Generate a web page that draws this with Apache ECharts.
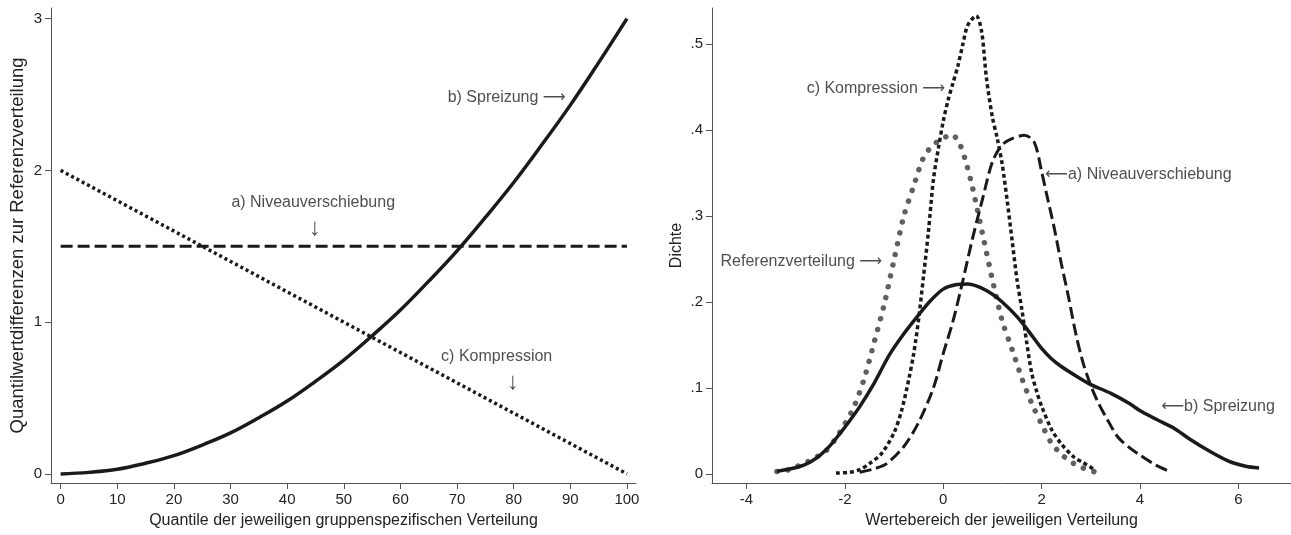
<!DOCTYPE html>
<html>
<head>
<meta charset="utf-8">
<script src="https://cdn.jsdelivr.net/npm/echarts@6/dist/echarts.min.js"></script>
<style>
html,body{margin:0;padding:0;background:#fff;}
#chart{width:1291px;height:535px;}
</style>
</head>
<body>
<div id="chart"></div>
<script>
// ---------- Left panel data ----------
const quantiles = [0,5,10,15,20,25,30,35,40,45,50,55,60,65,70,75,80,85,90,95,100];
const spreizungQ = [0,0.01,0.03,0.07,0.12,0.19,0.27,0.37,0.48,0.61,0.75,0.91,1.08,1.27,1.47,1.69,1.92,2.17,2.43,2.71,3.0];
const niveauQX = [0,100];
const niveauQ = [1.5,1.5];
const kompressionQX = [0,100];
const kompressionQ = [2,0];
const leftXTicks = [0,10,20,30,40,50,60,70,80,90,100];
const leftYTicks = [0,1,2,3];

// ---------- Right panel data ----------
const refX = [-3.38,-3.2,-3.0,-2.8,-2.6,-2.4,-2.2,-2.0,-1.8,-1.6,-1.4,-1.2,-1.0,-0.8,-0.6,-0.4,-0.2,0.0,0.15,0.3,0.45,0.6,0.8,1.0,1.2,1.4,1.6,1.8,2.0,2.2,2.4,2.6,2.8,3.0,3.1];
const refY = [0.003,0.004,0.008,0.013,0.019,0.026,0.040,0.058,0.080,0.112,0.154,0.197,0.249,0.300,0.335,0.368,0.383,0.390,0.395,0.388,0.365,0.332,0.279,0.226,0.178,0.145,0.111,0.082,0.058,0.036,0.023,0.014,0.008,0.004,0.002];

const kompX = [-2.18,-1.9,-1.7,-1.5,-1.25,-1.0,-0.85,-0.7,-0.6,-0.5,-0.4,-0.3,-0.2,-0.1,0.0,0.1,0.2,0.3,0.4,0.5,0.67,0.78,0.88,1.0,1.1,1.2,1.3,1.4,1.5,1.6,1.7,1.8,1.9,2.0,2.2,2.4,2.65,2.85,3.08];
const kompY = [0.001,0.002,0.005,0.012,0.024,0.048,0.073,0.11,0.14,0.18,0.23,0.282,0.342,0.378,0.41,0.435,0.455,0.475,0.50,0.522,0.533,0.515,0.46,0.415,0.39,0.36,0.318,0.272,0.226,0.191,0.152,0.117,0.096,0.079,0.052,0.035,0.020,0.013,0.005];

const nivX = [-1.7,-1.4,-1.15,-0.8,-0.5,-0.2,0.0,0.2,0.4,0.6,0.8,1.0,1.2,1.4,1.65,1.85,2.0,2.1,2.25,2.4,2.55,2.7,2.85,3.0,3.15,3.35,3.55,3.8,4.0,4.3,4.6];
const nivY = [0.002,0.006,0.012,0.032,0.06,0.10,0.14,0.178,0.225,0.275,0.32,0.363,0.383,0.39,0.394,0.386,0.352,0.326,0.288,0.245,0.205,0.162,0.128,0.103,0.083,0.062,0.043,0.030,0.022,0.011,0.003];

const sprX = [-3.38,-3.1,-2.9,-2.7,-2.5,-2.3,-2.1,-1.9,-1.7,-1.4,-1.1,-0.8,-0.5,-0.25,0.0,0.25,0.5,0.75,1.0,1.2,1.5,1.75,2.0,2.2,2.4,2.7,3.0,3.4,3.75,4.05,4.35,4.7,5.0,5.4,5.8,6.15,6.42];
const sprY = [0.003,0.006,0.009,0.014,0.022,0.033,0.047,0.062,0.078,0.106,0.138,0.163,0.185,0.202,0.215,0.220,0.221,0.217,0.209,0.200,0.183,0.165,0.146,0.134,0.125,0.114,0.104,0.094,0.083,0.072,0.063,0.053,0.041,0.027,0.015,0.009,0.007];

const rightXTicks = [-4,-2,0,2,4,6];
const rightYTicks = [0,0.1,0.2,0.3,0.4,0.5];

// ---------- Annotations (text, x, y, anchor) ----------
const leftNotes = [
  ['b) Spreizung \u27F6', 89.2, 2.48, 'right'],
  ['a) Niveauverschiebung', 44.6, 1.79, 'center'],
  ['\u2193', 44.9, 1.62, 'center'],
  ['c) Kompression', 77.0, 0.77, 'center'],
  ['\u2193', 79.9, 0.60, 'center']
];
const rightNotes = [
  ['c) Kompression \u27F6', 0.04, 0.448, 'right'],
  ['\u27F5a) Niveauverschiebung', 2.07, 0.348, 'left'],
  ['Referenzverteilung \u27F6', -1.24, 0.2465, 'right'],
  ['\u27F5b) Spreizung', 4.43, 0.078, 'left']
];

const zip = (xs, ys) => xs.map((x, i) => [x, ys[i]]);
const FONT = '"Liberation Sans", Arial, "DejaVu Sans", sans-serif';
const TXT = '#222222';
const AX = '#555555';
const INK = '#1a1a1a';

function axisCommon(ticks, nameSize) {
  return {
    axisLine: { show: true, onZero: false, lineStyle: { color: AX, width: 1 } },
    axisTick: { show: true, length: 6, customValues: ticks, lineStyle: { color: AX } },
    splitLine: { show: false },
    nameTextStyle: { color: TXT, fontFamily: FONT, fontSize: nameSize || 16 },
    nameLocation: 'middle'
  };
}
const rightYFmt = v => (Math.abs(v) < 1e-9 ? '0' : v.toFixed(1).replace(/^0\./, '.'));
const lbl = (ticks, margin, fmt) => ({ customValues: ticks, color: TXT, fontFamily: FONT, fontSize: 15, margin: margin, formatter: fmt });

function notesSeries(notes, idx) {
  return {
    type: 'scatter', xAxisIndex: idx, yAxisIndex: idx, symbolSize: 0, silent: true, z: 10,
    data: notes.map(n => ({
      value: [n[1], n[2]],
      label: {
        show: true, position: 'inside', formatter: n[0], align: n[3], verticalAlign: 'middle',
        color: TXT, fontFamily: FONT, fontSize: n[0] === '\u2193' ? 24 : 16
      }
    }))
  };
}

const chart = echarts.init(document.getElementById('chart'), null, { renderer: 'canvas' });
chart.setOption({
  animation: false,
  backgroundColor: '#ffffff',
  grid: [
    { left: 51, top: 8, width: 585, height: 475 },
    { left: 712, top: 8, width: 579, height: 475 }
  ],
  xAxis: [
    Object.assign(axisCommon(leftXTicks), {
      type: 'value', gridIndex: 0, min: -1.7, max: 101.6,
      name: 'Quantile der jeweiligen gruppenspezifischen Verteilung', nameGap: 30,
      axisLabel: lbl(leftXTicks, 9)
    }),
    Object.assign(axisCommon(rightXTicks), {
      type: 'value', gridIndex: 1, min: -4.7, max: 7.07,
      name: 'Wertebereich der jeweiligen Verteilung', nameGap: 30,
      axisLabel: lbl(rightXTicks, 9)
    })
  ],
  yAxis: [
    Object.assign(axisCommon(leftYTicks, 18.5), {
      type: 'value', gridIndex: 0, min: -0.06, max: 3.07,
      name: 'Quantilwertdifferenzen zur Referenzverteilung', nameGap: 24,
      axisLabel: lbl(leftYTicks, 9)
    }),
    Object.assign(axisCommon(rightYTicks), {
      type: 'value', gridIndex: 1, min: -0.0105, max: 0.542,
      name: 'Dichte', nameGap: 27,
      axisLabel: lbl(rightYTicks, 9, rightYFmt)
    })
  ],
  series: [
    { type: 'line', xAxisIndex: 0, yAxisIndex: 0, symbol: 'none', smooth: 0.4,
      data: zip(quantiles, spreizungQ), lineStyle: { color: INK, width: 3.5 } },
    { type: 'line', xAxisIndex: 0, yAxisIndex: 0, symbol: 'none',
      data: zip(niveauQX, niveauQ), lineStyle: { color: INK, width: 3, type: [12, 5] } },
    { type: 'line', xAxisIndex: 0, yAxisIndex: 0, symbol: 'none',
      data: zip(kompressionQX, kompressionQ), lineStyle: { color: INK, width: 3.5, type: [3, 3] } },

    { type: 'line', xAxisIndex: 1, yAxisIndex: 1, symbol: 'none', smooth: 0.3,
      data: zip(refX, refY), lineStyle: { color: '#606060', width: 5.5, type: [0.01, 11], cap: 'round' } },
    { type: 'line', xAxisIndex: 1, yAxisIndex: 1, symbol: 'none', smooth: 0.3,
      data: zip(sprX, sprY), lineStyle: { color: INK, width: 3.5 } },
    { type: 'line', xAxisIndex: 1, yAxisIndex: 1, symbol: 'none', smooth: 0.3,
      data: zip(kompX, kompY), lineStyle: { color: INK, width: 3.5, type: [4, 3] } },
    { type: 'line', xAxisIndex: 1, yAxisIndex: 1, symbol: 'none', smooth: 0.3,
      data: zip(nivX, nivY), lineStyle: { color: INK, width: 3, type: [12, 5] } },

    notesSeries(leftNotes, 0),
    notesSeries(rightNotes, 1)
  ]
});
</script>
</body>
</html>
